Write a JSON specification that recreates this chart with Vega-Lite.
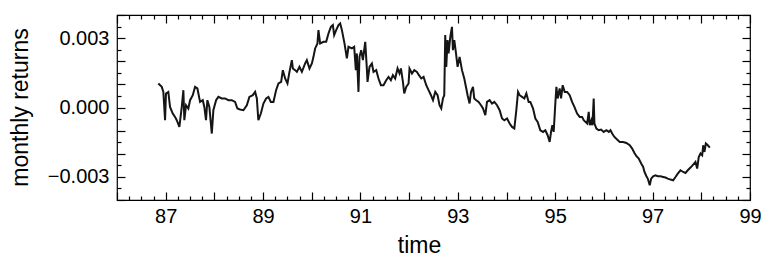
{
  "$schema": "https://vega.github.io/schema/vega-lite/v6.json",
  "width": 633,
  "height": 185,
  "autosize": "none",
  "padding": {"left": 117, "top": 15, "right": 13, "bottom": 58},
  "background": "white",
  "config": {
    "view": {"stroke": "#000", "strokeWidth": 1.2},
    "font": "Liberation Sans",
    "axis": {"domain": false, "grid": false, "labelFont": "Liberation Sans", "titleFont": "Liberation Sans", "labelColor": "#000", "titleColor": "#000", "tickColor": "#000", "tickWidth": 1.2, "titleFontWeight": "normal"}
  },
  "data": {"values": [
    {"t":86.849,"r":0.001039},{"t":86.919,"r":0.000892},{"t":86.952,"r":0.000675},{"t":86.987,"r":-0.00055},{"t":87.006,"r":0.000606},{"t":87.054,"r":0.000675},{"t":87.089,"r":0.000026},{"t":87.145,"r":-0.00026},{"t":87.192,"r":-0.000407},{"t":87.227,"r":-0.00055},{"t":87.281,"r":-0.00084},{"t":87.33,"r":0.000026},{"t":87.363,"r":0.000749},{"t":87.383,"r":-0.00055},{"t":87.418,"r":0.0001},{"t":87.465,"r":-0.000043},{"t":87.501,"r":0.000316},{"t":87.556,"r":0.000532},{"t":87.603,"r":0.000892},{"t":87.651,"r":0.000823},{"t":87.706,"r":0.000242},{"t":87.761,"r":0.000316},{"t":87.794,"r":0.000026},{"t":87.828,"r":-0.00055},{"t":87.856,"r":0.000316},{"t":87.897,"r":0.000026},{"t":87.947,"r":-0.001126},{"t":87.979,"r":-0.000117},{"t":88.035,"r":0.000316},{"t":88.082,"r":0.000459},{"t":88.152,"r":0.00039},{"t":88.22,"r":0.00039},{"t":88.288,"r":0.000316},{"t":88.358,"r":0.000316},{"t":88.425,"r":0.000242},{"t":88.473,"r":-0.000043},{"t":88.528,"r":-0.000087},{"t":88.596,"r":-0.000117},{"t":88.666,"r":0.0001},{"t":88.719,"r":0.000459},{"t":88.789,"r":0.000532},{"t":88.837,"r":0.000675},{"t":88.872,"r":0.00039},{"t":88.903,"r":-0.00055},{"t":88.954,"r":-0.00026},{"t":89.007,"r":0.000173},{"t":89.063,"r":0.00039},{"t":89.11,"r":0.000459},{"t":89.159,"r":0.000242},{"t":89.213,"r":0.000242},{"t":89.267,"r":0.000749},{"t":89.316,"r":0.001039},{"t":89.371,"r":0.001108},{"t":89.406,"r":0.001615},{"t":89.453,"r":0.001255},{"t":89.501,"r":0.001039},{"t":89.542,"r":0.001541},{"t":89.591,"r":0.002048},{"t":89.612,"r":0.001688},{"t":89.659,"r":0.001615},{"t":89.694,"r":0.001541},{"t":89.747,"r":0.001758},{"t":89.797,"r":0.001541},{"t":89.864,"r":0.001905},{"t":89.899,"r":0.002048},{"t":89.953,"r":0.001688},{"t":90.002,"r":0.001905},{"t":90.035,"r":0.00219},{"t":90.069,"r":0.002554},{"t":90.117,"r":0.002771},{"t":90.137,"r":0.003346},{"t":90.172,"r":0.002771},{"t":90.241,"r":0.00284},{"t":90.296,"r":0.00284},{"t":90.343,"r":0.003203},{"t":90.393,"r":0.003489},{"t":90.433,"r":0.003563},{"t":90.46,"r":0.00313},{"t":90.501,"r":0.003346},{"t":90.549,"r":0.003563},{"t":90.584,"r":0.003636},{"t":90.619,"r":0.003346},{"t":90.672,"r":0.002771},{"t":90.721,"r":0.002121},{"t":90.754,"r":0.002623},{"t":90.824,"r":0.002554},{"t":90.871,"r":0.002623},{"t":90.905,"r":0.001615},{"t":90.926,"r":0.002338},{"t":90.959,"r":0.000675},{"t":90.98,"r":0.00219},{"t":91.015,"r":0.002481},{"t":91.05,"r":0.002048},{"t":91.098,"r":0.00284},{"t":91.133,"r":0.001615},{"t":91.145,"r":0.001108},{"t":91.186,"r":0.001758},{"t":91.235,"r":0.001905},{"t":91.268,"r":0.001541},{"t":91.324,"r":0.001615},{"t":91.37,"r":0.001255},{"t":91.42,"r":0.000965},{"t":91.473,"r":0.000965},{"t":91.529,"r":0.001182},{"t":91.576,"r":0.001325},{"t":91.625,"r":0.001182},{"t":91.666,"r":0.001398},{"t":91.713,"r":0.001255},{"t":91.762,"r":0.001688},{"t":91.802,"r":0.001472},{"t":91.831,"r":0.001688},{"t":91.872,"r":0.001108},{"t":91.899,"r":0.000606},{"t":91.94,"r":0.000892},{"t":91.988,"r":0.001039},{"t":92.007,"r":0.001688},{"t":92.058,"r":0.001472},{"t":92.105,"r":0.001615},{"t":92.16,"r":0.001541},{"t":92.201,"r":0.001398},{"t":92.249,"r":0.001255},{"t":92.296,"r":0.001325},{"t":92.351,"r":0.000965},{"t":92.399,"r":0.000749},{"t":92.448,"r":0.000532},{"t":92.489,"r":0.000316},{"t":92.536,"r":0.000675},{"t":92.584,"r":0.000532},{"t":92.624,"r":0.0001},{"t":92.659,"r":-0.000043},{"t":92.694,"r":0.00039},{"t":92.721,"r":0.000532},{"t":92.741,"r":0.00313},{"t":92.762,"r":0.001758},{"t":92.789,"r":0.002913},{"t":92.81,"r":0.002338},{"t":92.845,"r":0.003056},{"t":92.879,"r":0.003489},{"t":92.899,"r":0.002481},{"t":92.927,"r":0.002913},{"t":92.962,"r":0.002338},{"t":92.995,"r":0.001758},{"t":93.036,"r":0.00219},{"t":93.085,"r":0.001615},{"t":93.132,"r":0.001255},{"t":93.173,"r":0.000823},{"t":93.2,"r":0.000532},{"t":93.241,"r":0.000173},{"t":93.27,"r":0.000675},{"t":93.311,"r":0.000892},{"t":93.337,"r":0.00039},{"t":93.378,"r":0.000316},{"t":93.426,"r":0.000242},{"t":93.476,"r":0.0001},{"t":93.517,"r":-0.000043},{"t":93.564,"r":-0.000333},{"t":93.599,"r":0.000242},{"t":93.653,"r":0.000316},{"t":93.702,"r":0.000173},{"t":93.749,"r":0.000242},{"t":93.805,"r":0.0001},{"t":93.858,"r":-0.000117},{"t":93.908,"r":-0.000476},{"t":93.955,"r":-0.00055},{"t":94.01,"r":-0.000476},{"t":94.064,"r":-0.000693},{"t":94.113,"r":-0.00084},{"t":94.16,"r":-0.000909},{"t":94.201,"r":-0.000117},{"t":94.236,"r":0.000675},{"t":94.269,"r":0.000532},{"t":94.319,"r":0.000459},{"t":94.366,"r":0.00039},{"t":94.407,"r":0.000606},{"t":94.454,"r":0.000242},{"t":94.489,"r":0.000242},{"t":94.545,"r":-0.000043},{"t":94.592,"r":-0.000476},{"t":94.639,"r":-0.000623},{"t":94.694,"r":-0.000983},{"t":94.75,"r":-0.001056},{"t":94.797,"r":-0.000983},{"t":94.844,"r":-0.001199},{"t":94.886,"r":-0.001489},{"t":94.914,"r":-0.001056},{"t":94.941,"r":-0.000766},{"t":94.968,"r":-0.001056},{"t":95.002,"r":0.000173},{"t":95.024,"r":0.000892},{"t":95.05,"r":0.00039},{"t":95.091,"r":0.000823},{"t":95.12,"r":0.00039},{"t":95.153,"r":0.000965},{"t":95.194,"r":0.000675},{"t":95.244,"r":0.000675},{"t":95.297,"r":0.000532},{"t":95.346,"r":0.000242},{"t":95.394,"r":0.000026},{"t":95.449,"r":-0.00026},{"t":95.503,"r":-0.000407},{"t":95.552,"r":-0.000407},{"t":95.585,"r":-0.00055},{"t":95.62,"r":-0.000623},{"t":95.655,"r":-0.000693},{"t":95.688,"r":-0.00019},{"t":95.708,"r":-0.000766},{"t":95.743,"r":-0.00055},{"t":95.764,"r":-0.000766},{"t":95.79,"r":0.00039},{"t":95.805,"r":-0.000693},{"t":95.846,"r":-0.000909},{"t":95.893,"r":-0.000983},{"t":95.942,"r":-0.000952},{"t":95.996,"r":-0.001056},{"t":96.051,"r":-0.000983},{"t":96.099,"r":-0.001056},{"t":96.134,"r":-0.000983},{"t":96.169,"r":-0.001126},{"t":96.216,"r":-0.001273},{"t":96.271,"r":-0.001385},{"t":96.325,"r":-0.001489},{"t":96.395,"r":-0.001489},{"t":96.462,"r":-0.001532},{"t":96.53,"r":-0.001632},{"t":96.58,"r":-0.001775},{"t":96.627,"r":-0.001965},{"t":96.668,"r":-0.002108},{"t":96.715,"r":-0.002208},{"t":96.765,"r":-0.002424},{"t":96.806,"r":-0.002571},{"t":96.833,"r":-0.002788},{"t":96.873,"r":-0.002974},{"t":96.9,"r":-0.003074},{"t":96.941,"r":-0.003364},{"t":96.97,"r":-0.003074},{"t":97.011,"r":-0.002974},{"t":97.058,"r":-0.002931},{"t":97.106,"r":-0.002974},{"t":97.161,"r":-0.002974},{"t":97.217,"r":-0.003004},{"t":97.264,"r":-0.00303},{"t":97.311,"r":-0.003074},{"t":97.367,"r":-0.003117},{"t":97.422,"r":-0.003147},{"t":97.47,"r":-0.003004},{"t":97.517,"r":-0.002857},{"t":97.572,"r":-0.002714},{"t":97.628,"r":-0.002788},{"t":97.675,"r":-0.002831},{"t":97.722,"r":-0.002714},{"t":97.778,"r":-0.002597},{"t":97.833,"r":-0.002468},{"t":97.88,"r":-0.002355},{"t":97.915,"r":-0.002641},{"t":97.948,"r":-0.002139},{"t":97.983,"r":-0.001991},{"t":98.018,"r":-0.002065},{"t":98.039,"r":-0.001632},{"t":98.065,"r":-0.001922},{"t":98.093,"r":-0.001558},{"t":98.134,"r":-0.001632},{"t":98.175,"r":-0.001732}
  ]},
  "layer": [
    {
      "mark": {"type": "line", "color": "#151515", "strokeWidth": 2, "interpolate": "linear", "strokeJoin": "miter"},
      "encoding": {
        "x": {"field": "t", "type": "quantitative", "scale": {"domain": [86, 99], "nice": false, "zero": false},
          "axis": {"orient": "bottom", "title": "time", "titleFontSize": 23, "labelFontSize": 20,
            "values": [86,86.25,86.5,86.75,87,87.25,87.5,87.75,88,88.25,88.5,88.75,89,89.25,89.5,89.75,90,90.25,90.5,90.75,91,91.25,91.5,91.75,92,92.25,92.5,92.75,93,93.25,93.5,93.75,94,94.25,94.5,94.75,95,95.25,95.5,95.75,96,96.25,96.5,96.75,97,97.25,97.5,97.75,98,98.25,98.5,98.75,99],
            "labelExpr": "datum.value % 2 === 1 ? format(datum.value, 'd') : ''",
            "labelOverlap": false, "labelFlush": false,
            "tickSize": {"condition": {"test": "datum.value % 1 === 0", "value": -8}, "value": -4},
            "labelPadding": 14, "titleX": 302, "titleY": 52, "titleBaseline": "alphabetic"}},
        "y": {"field": "r", "type": "quantitative", "scale": {"domain": [-0.004, 0.004], "nice": false, "zero": false},
          "axis": {"orient": "left", "title": "monthly returns", "titleFontSize": 23, "labelFontSize": 20,
            "values": [-0.004,-0.0035,-0.003,-0.0025,-0.002,-0.0015,-0.001,-0.0005,0,0.0005,0.001,0.0015,0.002,0.0025,0.003,0.0035,0.004],
            "labelExpr": "abs(datum.value) < 1e-9 || abs(abs(datum.value) - 0.003) < 1e-9 ? format(datum.value, '.3f') : ''",
            "labelOverlap": false, "labelFlush": false,
            "tickSize": {"condition": {"test": "abs(datum.value * 1000 - round(datum.value * 1000)) < 1e-6", "value": -8}, "value": -4},
            "labelPadding": 16, "titleX": -97, "titleY": 92, "titleAngle": -90, "titleAlign": "center", "titleBaseline": "middle"}}
      }
    },
    {
      "mark": {"type": "line", "strokeOpacity": 0},
      "encoding": {
        "x": {"field": "t", "type": "quantitative",
          "axis": {"orient": "top", "title": null, "labels": false,
            "values": [86,86.25,86.5,86.75,87,87.25,87.5,87.75,88,88.25,88.5,88.75,89,89.25,89.5,89.75,90,90.25,90.5,90.75,91,91.25,91.5,91.75,92,92.25,92.5,92.75,93,93.25,93.5,93.75,94,94.25,94.5,94.75,95,95.25,95.5,95.75,96,96.25,96.5,96.75,97,97.25,97.5,97.75,98,98.25,98.5,98.75,99],
            "tickSize": {"condition": {"test": "datum.value % 1 === 0", "value": -8}, "value": -4}}},
        "y": {"field": "r", "type": "quantitative",
          "axis": {"orient": "right", "title": null, "labels": false,
            "values": [-0.004,-0.0035,-0.003,-0.0025,-0.002,-0.0015,-0.001,-0.0005,0,0.0005,0.001,0.0015,0.002,0.0025,0.003,0.0035,0.004],
            "tickSize": {"condition": {"test": "abs(datum.value * 1000 - round(datum.value * 1000)) < 1e-6", "value": -8}, "value": -4}}}
      }
    }
  ],
  "resolve": {"axis": {"x": "independent", "y": "independent"}}
}
